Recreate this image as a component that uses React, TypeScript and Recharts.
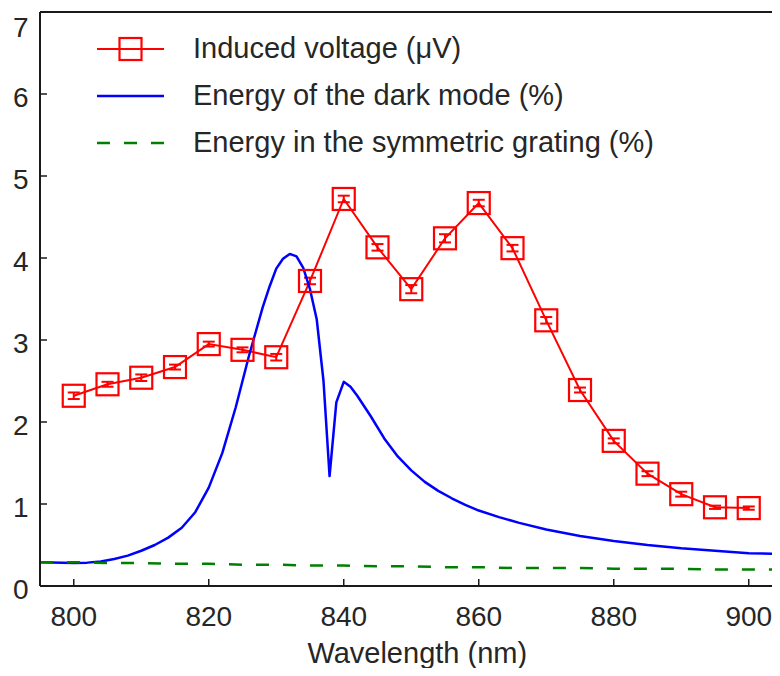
import { LineChart, Line, XAxis, YAxis, ErrorBar, ReferenceLine, Legend } from 'recharts'

const FONT = '"Liberation Sans", Arial, Helvetica, sans-serif'
const TEXT = '#262626'
const AXIS = '#1a1a1a'

// induced voltage, measured every 5 nm
const voltageWavelengths = [800, 805, 810, 815, 820, 825, 830, 835, 840, 845, 850, 855, 860, 865, 870, 875, 880, 885, 890, 895, 900]
const voltageValues = [2.32, 2.46, 2.54, 2.67, 2.95, 2.88, 2.79, 3.72, 4.72, 4.13, 3.62, 4.24, 4.67, 4.12, 3.24, 2.39, 1.77, 1.37, 1.12, 0.96, 0.95]
const voltageErrors = [0.04, 0.03, 0.04, 0.03, 0.03, 0.03, 0.04, 0.04, 0.04, 0.04, 0.05, 0.05, 0.04, 0.04, 0.04, 0.03, 0.03, 0.03, 0.03, 0.02, 0.02]

// energy of the dark mode (simulation)
const darkWavelengths = [
  795, 800, 802, 804, 806, 808, 810, 812, 814, 816, 818, 820, 822, 824, 826, 828, 829, 830, 831, 832, 833, 834, 835, 836, 837,
  837.9, 838.9, 840, 841, 842, 844, 846, 848, 850, 852, 854, 856, 858, 860, 863, 866, 870, 875, 880, 885, 890, 895, 900, 905,
]
const darkValues = [
  0.29, 0.28, 0.285, 0.3, 0.33, 0.37, 0.43, 0.5, 0.59, 0.71, 0.9, 1.2, 1.62, 2.18, 2.82, 3.4, 3.65, 3.87, 3.99, 4.05, 4.02, 3.88, 3.62, 3.25, 2.5,
  1.34, 2.24, 2.49, 2.43, 2.32, 2.07, 1.8, 1.58, 1.41, 1.27, 1.16, 1.07, 0.99, 0.92, 0.84, 0.77, 0.69, 0.61, 0.55, 0.5, 0.46, 0.43, 0.4, 0.39,
]

// energy in the symmetric grating
const gratingWavelengths = [795, 800, 805, 810, 815, 820, 825, 830, 835, 840, 845, 850, 855, 860, 865, 870, 875, 880, 885, 890, 895, 900, 905]
const gratingValues = [0.29, 0.29, 0.28, 0.28, 0.27, 0.27, 0.26, 0.26, 0.25, 0.25, 0.24, 0.24, 0.23, 0.23, 0.22, 0.22, 0.22, 0.21, 0.21, 0.21, 0.2, 0.2, 0.2]

const xTicks = [800, 820, 840, 860, 880, 900]
const yTicks = [0, 1, 2, 3, 4, 5, 6, 7]

const legendLabels = ['Induced voltage (\u03bcV)', 'Energy of the dark mode (%)', 'Energy in the symmetric grating (%)']

const voltageData = voltageWavelengths.map((wl, i) => ({ wl, v: voltageValues[i], err: voltageErrors[i] }))
const darkData = darkWavelengths.map((wl, i) => ({ wl, v: darkValues[i] }))
const gratingData = gratingWavelengths.map((wl, i) => ({ wl, v: gratingValues[i] }))

const SquareDot = (props: any) => {
  const { cx, cy, index } = props
  if (cx == null || cy == null) return <g key={`sq-${index}`} />
  return <rect key={`sq-${index}`} x={cx - 11} y={cy - 11} width={22} height={22} fill="none" stroke="#ff0000" strokeWidth={2.2} />
}

function LegendIcon({ i }: { i: number }) {
  if (i === 0) {
    return (
      <svg width={67} height={26}>
        <line x1={0} y1={13} x2={67} y2={13} stroke="#ff0000" strokeWidth={2} />
        <rect x={22.5} y={2} width={22} height={22} fill="none" stroke="#ff0000" strokeWidth={2.2} />
      </svg>
    )
  }
  if (i === 1) {
    return (
      <svg width={67} height={26}>
        <line x1={0} y1={13} x2={67} y2={13} stroke="#0000ff" strokeWidth={2.5} />
      </svg>
    )
  }
  return (
    <svg width={67} height={26}>
      <line x1={0} y1={13} x2={67} y2={13} stroke="#008000" strokeWidth={2.5} strokeDasharray="13 14" />
    </svg>
  )
}

function LegendContent() {
  return (
    <div style={{ fontFamily: FONT, fontSize: 29, color: TEXT }}>
      {legendLabels.map((label, i) => (
        <div key={label} style={{ display: 'flex', alignItems: 'center', height: 47, whiteSpace: 'nowrap' }}>
          <LegendIcon i={i} />
          <span style={{ marginLeft: 29 }}>{label}</span>
        </div>
      ))}
    </div>
  )
}

export default function App() {
  return (
    <div style={{ width: 772, height: 660, overflow: 'hidden', fontFamily: FONT }}>
      <LineChart width={790} height={668} margin={{ top: 4, right: 15.5, bottom: 0, left: 0 }}>
        <XAxis
          dataKey="wl"
          type="number"
          domain={[795, 905]}
          ticks={xTicks}
          allowDataOverflow
          height={90}
          tickSize={-7}
          tickMargin={27}
          axisLine={{ stroke: AXIS, strokeWidth: 2 }}
          tickLine={{ stroke: AXIS, strokeWidth: 1.5 }}
          tick={{ fontSize: 28, fill: TEXT, fontFamily: FONT }}
          label={{ value: 'Wavelength (nm)', position: 'insideBottom', offset: 13, dx: 6, fontSize: 29, fill: TEXT, fontFamily: FONT }}
        />
        <YAxis
          type="number"
          domain={[0, 7]}
          ticks={yTicks}
          allowDataOverflow
          width={32}
          tickSize={-7}
          tickMargin={18.5}
          axisLine={{ stroke: AXIS, strokeWidth: 2 }}
          tickLine={{ stroke: AXIS, strokeWidth: 1.5 }}
          tick={{ fontSize: 28, fill: TEXT, fontFamily: FONT, dy: 3 }}
        />
        <ReferenceLine y={7} stroke={AXIS} strokeWidth={2} />
        <Legend
          layout="vertical"
          align="center"
          verticalAlign="middle"
          content={<LegendContent />}
          wrapperStyle={{ left: 89, top: 17, width: 620 }}
        />
        <Line
          data={voltageData}
          dataKey="v"
          type="linear"
          stroke="#ff0000"
          strokeWidth={2}
          dot={SquareDot}
          activeDot={false}
          isAnimationActive={false}
        >
          <ErrorBar dataKey="err" width={6} stroke="#ff0000" strokeWidth={2} direction="y" isAnimationActive={false} />
        </Line>
        <Line
          data={darkData}
          dataKey="v"
          type="linear"
          stroke="#0000ff"
          strokeWidth={2.5}
          strokeLinejoin="round"
          dot={false}
          activeDot={false}
          isAnimationActive={false}
        />
        <Line
          data={gratingData}
          dataKey="v"
          type="linear"
          stroke="#008000"
          strokeWidth={2.5}
          strokeDasharray="13 14"
          dot={false}
          activeDot={false}
          isAnimationActive={false}
        />
      </LineChart>
    </div>
  )
}
